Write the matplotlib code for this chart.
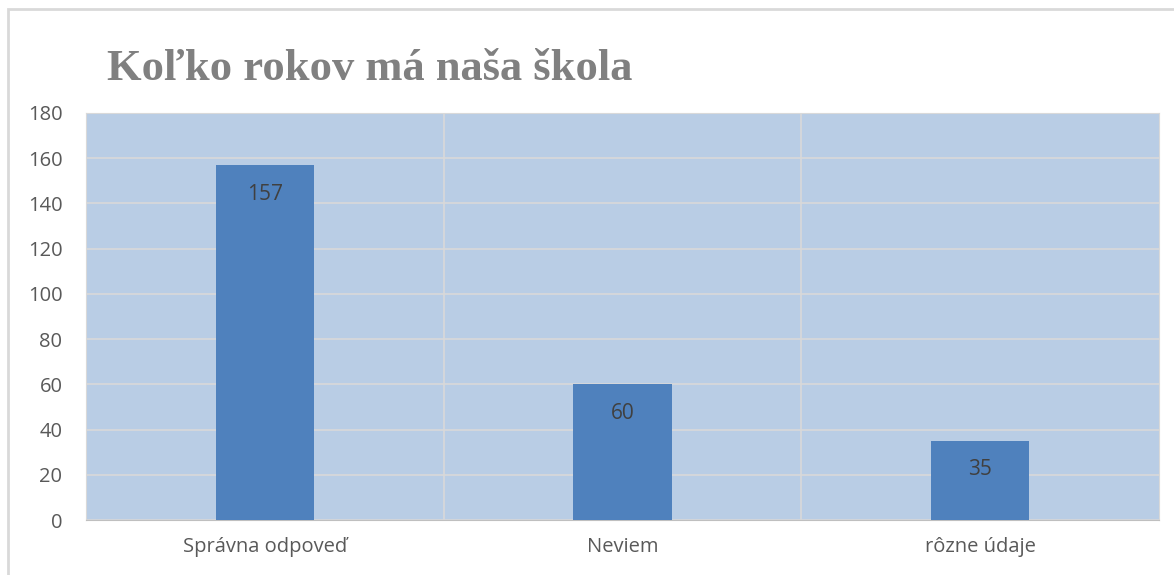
import numpy as np
import matplotlib.pyplot as plt
from matplotlib.patches import Rectangle

# Koľko rokov má naša škola - bar chart

categories = ['Správna odpoveď', 'Neviem', 'rôzne údaje']
values = [157, 60, 35]
yticks = [0, 20, 40, 60, 80, 100, 120, 140, 160, 180]

fig = plt.figure(figsize=(11.74, 5.75), dpi=100)
ax = fig.add_axes([86 / 1174, 1 - 520 / 575, (1159 - 86) / 1174, (520 - 113) / 575])

x = np.arange(len(categories))
ax.set_facecolor('#B9CDE5')
ax.bar(x, values, width=0.274, color='#4F81BD', zorder=3)

# data labels inside the bars
for xi, v in zip(x, values):
    ax.annotate(str(v), (xi, v), xytext=(0, -29), textcoords='offset pixels',
                ha='center', va='center', fontsize=15, color='#404040', family='Open Sans', zorder=4)

ax.set_xlim(-0.5, len(categories) - 0.5)
ax.set_ylim(0, 180)
ax.set_yticks(yticks)
ax.set_xticks(x)
ax.set_xticklabels(categories)

# gridlines: horizontal at ticks, vertical between categories
ax.grid(axis='y', color='#D9D9D9', linewidth=1.2, zorder=1)
for b in x[:-1] + 0.5:
    ax.axvline(b, color='#D9D9D9', linewidth=1.2, zorder=1)

ax.tick_params(length=0, labelsize=14.5, labelcolor='#595959')
ax.tick_params(axis='y', pad=17)
ax.tick_params(axis='x', pad=12)
for lab in ax.get_xticklabels() + ax.get_yticklabels():
    lab.set_family('Open Sans')

for s in ['top', 'right', 'left']:
    ax.spines[s].set_color('#D9D9D9')
ax.spines['bottom'].set_color('#BFBFBF')

fig.text(107 / 1174, 1 - 80 / 575, 'Koľko rokov má naša škola', fontsize=32, fontweight='bold',
         color='#808080', family='Liberation Serif', va='baseline')

# outer chart border
fig.patches.append(Rectangle((8 / 1174, -0.01), 1.02, 1 - 9 / 575 + 0.01, transform=fig.transFigure,
                             fill=False, edgecolor='#D9D9D9', linewidth=2))

fig.savefig('out.png', dpi=100)
